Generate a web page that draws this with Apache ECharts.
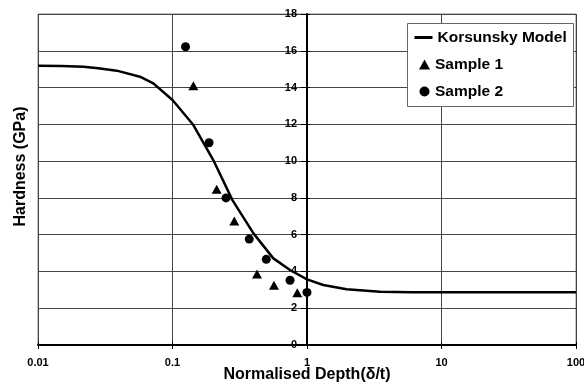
<!DOCTYPE html>
<html>
<head>
<meta charset="utf-8">
<script src="https://cdn.jsdelivr.net/npm/echarts@6/dist/echarts.min.js"></script>
<style>html,body{margin:0;padding:0;background:#fff;}#c{width:584px;height:388px;}</style>
</head>
<body>
<div id="c"></div>
<script>
// Korsunsky model curve
const modelX = [0.01, 0.015, 0.0218, 0.028, 0.0385, 0.0573, 0.072, 0.1, 0.143, 0.201, 0.279, 0.4, 0.562, 0.748, 1.0, 1.32, 1.97, 3.49, 6, 10, 30, 100];
const modelY = [15.19, 15.17, 15.13, 15.05, 14.92, 14.59, 14.23, 13.32, 11.96, 10.06, 7.88, 6.07, 4.71, 4.08, 3.57, 3.26, 3.03, 2.90, 2.87, 2.87, 2.87, 2.87];
// Sample 1 (triangles)
const s1X = [0.143, 0.213, 0.288, 0.425, 0.568, 0.847];
const s1Y = [14.1, 8.47, 6.74, 3.86, 3.25, 2.84];
// Sample 2 (circles)
const s2X = [0.125, 0.187, 0.25, 0.372, 0.498, 0.748, 1.0];
const s2Y = [16.22, 11.0, 8.0, 5.76, 4.66, 3.52, 2.86];
const seriesNames = ['Korsunsky Model', 'Sample 1', 'Sample 2'];
const xName = 'Normalised Depth(δ/t)';
const yName = 'Hardness (GPa)';

const zip = (a, b) => a.map((v, i) => [v, b[i]]);
const FONT = "'Liberation Sans', Arial, sans-serif";
const legendText = {fontFamily: FONT, fontWeight: 'bold', fontSize: 15.5, color: '#000'};
const tickLabel = {fontFamily: FONT, fontWeight: 'bold', fontSize: 11, color: '#000'};

const chart = echarts.init(document.getElementById('c'), null, {renderer: 'canvas'});
chart.setOption({
  animation: false,
  backgroundColor: '#fff',
  grid: {left: 38, right: 8, top: 14, bottom: 43, outerBoundsMode: 'none', containLabel: false,
         show: true, borderColor: '#888', borderWidth: 1, backgroundColor: '#fff'},
  graphic: [{
    type: 'rect', left: 407, top: 23, z: 3, silent: true,
    shape: {width: 166, height: 83},
    style: {fill: '#fff', stroke: '#666', lineWidth: 1}
  }],
  legend: [
    {
      orient: 'vertical', left: 413, top: 29.5, padding: 0,
      itemWidth: 18, itemHeight: 10, itemGap: 11, z: 5,
      textStyle: legendText,
      data: [{name: seriesNames[0], itemStyle: {opacity: 0}, lineStyle: {width: 3}}]
    },
    {
      orient: 'vertical', left: 419, top: 56.5, padding: 0,
      itemWidth: 11, itemHeight: 10, itemGap: 11, z: 5,
      textStyle: legendText,
      data: [{name: seriesNames[1], icon: 'triangle'}, {name: seriesNames[2], icon: 'circle'}]
    }
  ],
  xAxis: [{
    type: 'log', logBase: 10, min: 0.01, max: 100,
    name: xName, nameLocation: 'middle', nameGap: 22, nameMoveOverlap: false,
    nameTextStyle: {fontFamily: FONT, fontWeight: 'bold', fontSize: 16, color: '#000'},
    axisLine: {lineStyle: {color: '#000', width: 2}},
    axisTick: {show: true, length: 4, lineStyle: {color: '#000', width: 1}},
    minorTick: {show: false},
    axisLabel: Object.assign({margin: 12}, tickLabel),
    splitLine: {show: true, lineStyle: {color: '#444', width: 1}}
  }, {
    type: 'log', logBase: 10, min: 0.01, max: 100, position: 'bottom',
    axisLine: {show: false},
    axisTick: {show: true, inside: true, length: 3, lineStyle: {color: '#000', width: 1}},
    axisLabel: {show: false}, splitLine: {show: false}
  }],
  yAxis: [{
    type: 'value', min: 0, max: 18, interval: 2,
    position: 'left', offset: -269,
    name: yName, nameLocation: 'middle', nameGap: 278, nameMoveOverlap: false,
    nameTextStyle: {fontFamily: FONT, fontWeight: 'bold', fontSize: 16, color: '#000', padding: [0, 0, 0, 26]},
    axisLine: {show: true, onZero: false, lineStyle: {color: '#000', width: 2}},
    axisTick: {show: true, length: 6, lineStyle: {color: '#000', width: 1}},
    axisLabel: Object.assign({margin: 10}, tickLabel),
    splitLine: {show: true, lineStyle: {color: '#444', width: 1}}
  }, {
    type: 'value', min: 0, max: 18, interval: 2,
    position: 'left', offset: -269,
    axisLine: {show: false, onZero: false},
    axisTick: {show: true, inside: true, length: 3, lineStyle: {color: '#000', width: 1}},
    axisLabel: {show: false}, splitLine: {show: false}
  }],
  series: [
    {name: seriesNames[0], type: 'line', data: zip(modelX, modelY), symbol: 'none', showSymbol: false,
     lineStyle: {color: '#000', width: 2.5}, itemStyle: {color: '#000'}, z: 3},
    {name: seriesNames[1], type: 'scatter', data: zip(s1X, s1Y), symbol: 'triangle', symbolSize: [10, 9],
     itemStyle: {color: '#000', opacity: 1}, z: 2},
    {name: seriesNames[2], type: 'scatter', data: zip(s2X, s2Y), symbol: 'circle', symbolSize: 9,
     itemStyle: {color: '#000', opacity: 1}, z: 2}
  ]
});
</script>
</body>
</html>
